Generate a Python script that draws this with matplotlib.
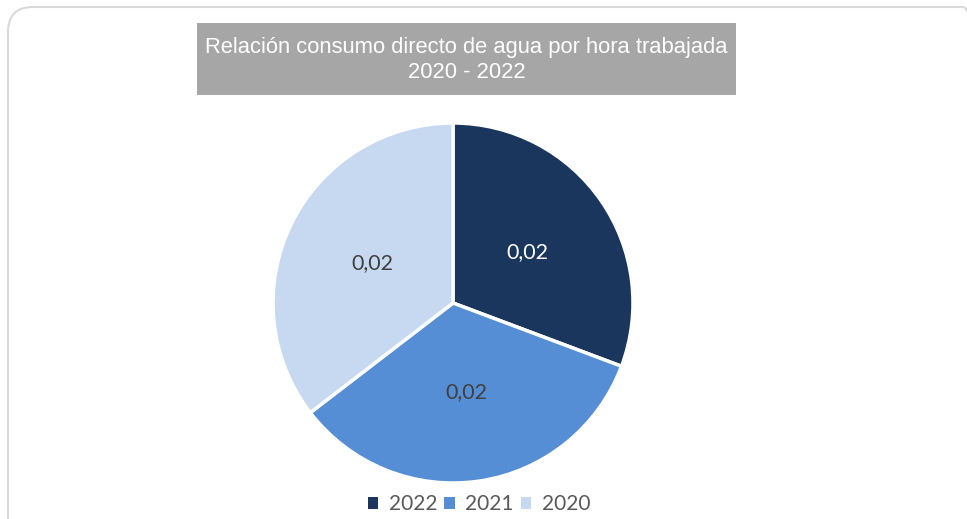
import matplotlib
matplotlib.use('Agg')
import matplotlib.pyplot as plt
from matplotlib.patches import FancyBboxPatch, Rectangle

years = ['2022', '2021', '2020']
values = [0.0176, 0.0194, 0.0203]
colors = ['#1A365D', '#558ED5', '#C6D9F0']
label_colors = ['white', '#404040', '#404040']
title = 'Relación consumo directo de agua por hora trabajada\n2020 - 2022'

fig = plt.figure(figsize=(9.67, 5.19), dpi=100)

# rounded chart border (runs off the right and bottom edges)
border = FancyBboxPatch((0.08, -0.3), 9.8, 5.42,
                        boxstyle='round,pad=0,rounding_size=0.25',
                        transform=fig.dpi_scale_trans, facecolor='none',
                        edgecolor='#D9D9D9', lw=1.5)
fig.patches.append(border)

# gray title box
fig.patches.append(Rectangle((197/967, 1-95/519), 539/967, 72/519,
                             transform=fig.transFigure, facecolor='#A6A6A6',
                             edgecolor='none'))
fig.text(466.5/967, 1-60/519, title, ha='center', va='center', color='white',
         fontsize=15.8, family='Liberation Sans', linespacing=1.3)

ax = fig.add_axes([273/967, 36/519, 360/967, 360/519])
wedges, texts, autotexts = ax.pie(values, colors=colors, startangle=90, counterclock=False,
                                  radius=1, autopct=lambda p: '0,02', pctdistance=0.5,
                                  wedgeprops=dict(edgecolor='white', linewidth=2.5))
for t, c in zip(autotexts, label_colors):
    t.set_color(c)
    t.set_fontsize(15.5)
    t.set_family('Lato')
ax.set_xlim(-1, 1)
ax.set_ylim(-1, 1)
ax.set_aspect('equal')
ax.axis('off')

leg = fig.legend(wedges, years, loc='center', bbox_to_anchor=(479/967, 1-504/519), ncol=3,
                 frameon=False, handlelength=0.5, handleheight=0.5, handletextpad=0.5,
                 columnspacing=0.35, prop={'family': 'Lato', 'size': 15})
for t in leg.get_texts():
    t.set_color('#595959')
for h in leg.legend_handles:
    h.set_edgecolor('none')

fig.savefig('out.png', dpi=100)
